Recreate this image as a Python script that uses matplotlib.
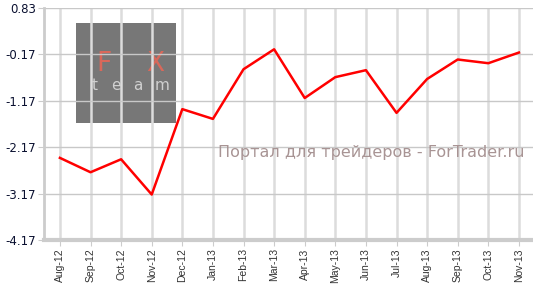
import matplotlib
matplotlib.use("Agg")
import matplotlib.pyplot as plt
from matplotlib.patches import Rectangle

months = ["Aug-12", "Sep-12", "Oct-12", "Nov-12", "Dec-12", "Jan-13", "Feb-13",
          "Mar-13", "Apr-13", "May-13", "Jun-13", "Jul-13", "Aug-13", "Sep-13",
          "Oct-13", "Nov-13"]
values = [-2.40, -2.71, -2.43, -3.19, -1.35, -1.56, -0.49, -0.06, -1.11,
          -0.66, -0.51, -1.43, -0.70, -0.28, -0.36, -0.13]
y_ticks = [0.83, -0.17, -1.17, -2.17, -3.17, -4.17]

W, H = 533, 284
fig = plt.figure(figsize=(W / 100, H / 100), dpi=100)
ax = fig.add_axes([44 / W, 1 - 240 / H, 489 / W, 232 / H])

x = list(range(len(months)))
ax.plot(x, values, color="#ff0000", linewidth=1.8, zorder=5)

ax.set_xlim(-0.52, 15.46)
ax.set_ylim(-4.17, 0.83)
ax.set_yticks(y_ticks)
ax.set_yticklabels([f"{v:.2f}" for v in y_ticks], fontsize=8.5, color="#0a1030")
ax.set_xticks(x)
ax.set_xticklabels(months, rotation=90, fontsize=7.5, color="#333333",
                   family="Liberation Sans")

ax.grid(axis="y", color="#c8c8c8", linewidth=1.0)
ax.grid(axis="x", color="#dcdcdc", linewidth=1.8)
for gl in ax.get_xgridlines() + ax.get_ygridlines():
    gl.set_zorder(2)

for s in ["top", "right"]:
    ax.spines[s].set_visible(False)
ax.spines["left"].set_color("#cccccc")
ax.spines["left"].set_linewidth(2)
ax.spines["bottom"].set_color("#cccccc")
ax.spines["bottom"].set_linewidth(3)
ax.tick_params(axis="y", length=4, color="#cccccc", pad=2)
ax.tick_params(axis="x", length=4, color="#cccccc", pad=2)

# watermark logo (under the grid)
box = Rectangle((76 / W, 1 - 123 / H), 100 / W, 100 / H,
                transform=fig.transFigure, facecolor="#777777",
                edgecolor="none", zorder=1)
ax.add_patch(box)
for ch, px in [("F", 104), ("X", 155)]:
    ax.text(px / W, 1 - 64 / H, ch, transform=fig.transFigure,
            color="#d9685a", fontsize=19, ha="center", va="center", zorder=1.5)
for ch, px in [("t", 95), ("e", 116), ("a", 138), ("m", 162)]:
    ax.text(px / W, 1 - 86 / H, ch, transform=fig.transFigure,
            color="#d0d0d0", fontsize=11, ha="center", va="center", zorder=1.5)

ax.text(371 / W, 1 - 152 / H, "Портал для трейдеров - ForTrader.ru",
        transform=fig.transFigure, color="#a89494", fontsize=11.5,
        ha="center", va="center", zorder=6)

fig.savefig("out.png", dpi=100)
